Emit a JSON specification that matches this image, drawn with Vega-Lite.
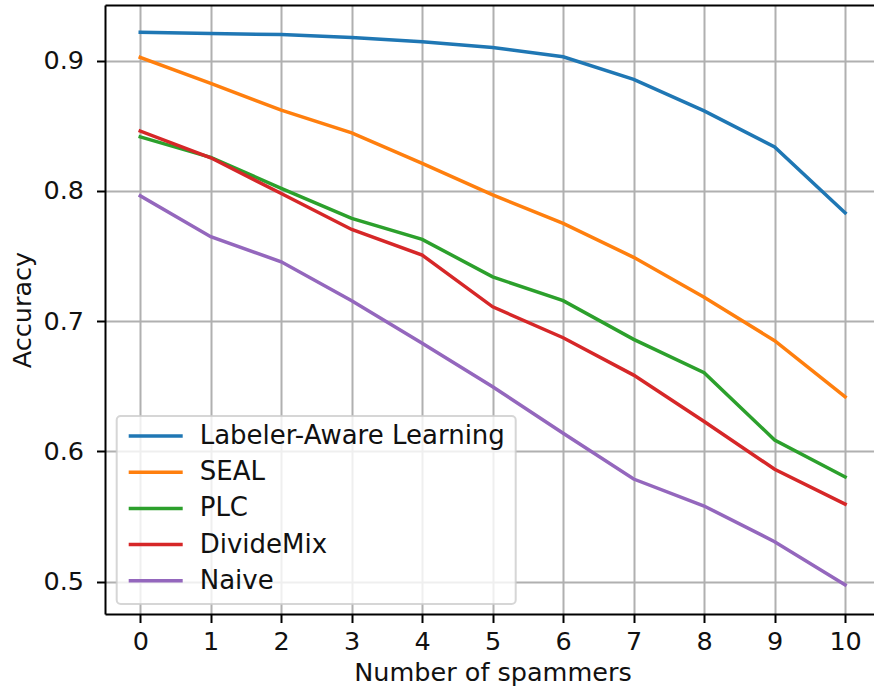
{
  "$schema": "https://vega.github.io/schema/vega-lite/v6.json",
  "width": 769,
  "height": 609,
  "autosize": {"type": "none"},
  "padding": {"left": 105, "top": 5, "right": 0, "bottom": 72},
  "background": "white",
  "config": {
    "view": {"stroke": null},
    "font": "DejaVu Sans",
    "axis": {
      "domainColor": "black",
      "domainWidth": 2,
      "tickColor": "black",
      "tickWidth": 2,
      "tickSize": 8.5,
      "gridColor": "#b0b0b0",
      "gridWidth": 2,
      "gridOpacity": 1,
      "labelFont": "DejaVu Sans",
      "labelFontSize": 25.5,
      "labelColor": "#111111",
      "titleFont": "DejaVu Sans",
      "titleFontSize": 25.5,
      "titleFontWeight": "normal",
      "titleColor": "#111111"
    }
  },
  "data": {
    "values": [
      {"spammers": 0, "method": "Labeler-Aware Learning", "accuracy": 0.9218},
      {"spammers": 1, "method": "Labeler-Aware Learning", "accuracy": 0.9208},
      {"spammers": 2, "method": "Labeler-Aware Learning", "accuracy": 0.9200},
      {"spammers": 3, "method": "Labeler-Aware Learning", "accuracy": 0.9177},
      {"spammers": 4, "method": "Labeler-Aware Learning", "accuracy": 0.9144},
      {"spammers": 5, "method": "Labeler-Aware Learning", "accuracy": 0.9100},
      {"spammers": 6, "method": "Labeler-Aware Learning", "accuracy": 0.9030},
      {"spammers": 7, "method": "Labeler-Aware Learning", "accuracy": 0.8856},
      {"spammers": 8, "method": "Labeler-Aware Learning", "accuracy": 0.8614},
      {"spammers": 9, "method": "Labeler-Aware Learning", "accuracy": 0.8338},
      {"spammers": 10, "method": "Labeler-Aware Learning", "accuracy": 0.7832},
      {"spammers": 0, "method": "SEAL", "accuracy": 0.9025},
      {"spammers": 1, "method": "SEAL", "accuracy": 0.8825},
      {"spammers": 2, "method": "SEAL", "accuracy": 0.8620},
      {"spammers": 3, "method": "SEAL", "accuracy": 0.8446},
      {"spammers": 4, "method": "SEAL", "accuracy": 0.8211},
      {"spammers": 5, "method": "SEAL", "accuracy": 0.7970},
      {"spammers": 6, "method": "SEAL", "accuracy": 0.7750},
      {"spammers": 7, "method": "SEAL", "accuracy": 0.7490},
      {"spammers": 8, "method": "SEAL", "accuracy": 0.7183},
      {"spammers": 9, "method": "SEAL", "accuracy": 0.6850},
      {"spammers": 10, "method": "SEAL", "accuracy": 0.6420},
      {"spammers": 0, "method": "PLC", "accuracy": 0.8415},
      {"spammers": 1, "method": "PLC", "accuracy": 0.8257},
      {"spammers": 2, "method": "PLC", "accuracy": 0.8020},
      {"spammers": 3, "method": "PLC", "accuracy": 0.7789},
      {"spammers": 4, "method": "PLC", "accuracy": 0.7628},
      {"spammers": 5, "method": "PLC", "accuracy": 0.7340},
      {"spammers": 6, "method": "PLC", "accuracy": 0.7157},
      {"spammers": 7, "method": "PLC", "accuracy": 0.6860},
      {"spammers": 8, "method": "PLC", "accuracy": 0.6604},
      {"spammers": 9, "method": "PLC", "accuracy": 0.6088},
      {"spammers": 10, "method": "PLC", "accuracy": 0.5804},
      {"spammers": 0, "method": "DivideMix", "accuracy": 0.8459},
      {"spammers": 1, "method": "DivideMix", "accuracy": 0.8254},
      {"spammers": 2, "method": "DivideMix", "accuracy": 0.7980},
      {"spammers": 3, "method": "DivideMix", "accuracy": 0.7704},
      {"spammers": 4, "method": "DivideMix", "accuracy": 0.7507},
      {"spammers": 5, "method": "DivideMix", "accuracy": 0.7110},
      {"spammers": 6, "method": "DivideMix", "accuracy": 0.6873},
      {"spammers": 7, "method": "DivideMix", "accuracy": 0.6586},
      {"spammers": 8, "method": "DivideMix", "accuracy": 0.6230},
      {"spammers": 9, "method": "DivideMix", "accuracy": 0.5863},
      {"spammers": 10, "method": "DivideMix", "accuracy": 0.5596},
      {"spammers": 0, "method": "Naive", "accuracy": 0.7962},
      {"spammers": 1, "method": "Naive", "accuracy": 0.7648},
      {"spammers": 2, "method": "Naive", "accuracy": 0.7456},
      {"spammers": 3, "method": "Naive", "accuracy": 0.7157},
      {"spammers": 4, "method": "Naive", "accuracy": 0.6830},
      {"spammers": 5, "method": "Naive", "accuracy": 0.6497},
      {"spammers": 6, "method": "Naive", "accuracy": 0.6139},
      {"spammers": 7, "method": "Naive", "accuracy": 0.5788},
      {"spammers": 8, "method": "Naive", "accuracy": 0.5581},
      {"spammers": 9, "method": "Naive", "accuracy": 0.5307},
      {"spammers": 10, "method": "Naive", "accuracy": 0.4975}
    ]
  },
  "layer": [
    {
      "mark": {"type": "line", "strokeWidth": 3.5, "strokeCap": "square", "clip": true},
      "encoding": {
        "x": {
          "field": "spammers",
          "type": "quantitative",
          "scale": {"domain": [-0.5, 10.41], "nice": false, "zero": false},
          "axis": {
            "orient": "bottom",
            "values": [0, 1, 2, 3, 4, 5, 6, 7, 8, 9, 10],
            "format": "d",
            "grid": true,
            "labelBaseline": "alphabetic",
            "labelPadding": 26.5,
            "labelFlush": false,
            "title": "Number of spammers",
            "titleX": 387.5,
            "titleY": 66,
            "titleBaseline": "alphabetic",
            "titleAlign": "center"
          }
        },
        "y": {
          "field": "accuracy",
          "type": "quantitative",
          "scale": {"domain": [0.4752, 0.9427], "nice": false, "zero": false},
          "axis": {
            "values": [0.5, 0.6, 0.7, 0.8, 0.9],
            "format": ".1f",
            "grid": true,
            "labelPadding": 13,
            "labelFlush": false,
            "labelBaseline": "middle",
            "title": "Accuracy",
            "titleAngle": -90,
            "titleX": -75,
            "titleY": 304.5,
            "titleAlign": "center",
            "titleBaseline": "alphabetic"
          }
        },
        "color": {
          "field": "method",
          "type": "nominal",
          "scale": {
            "domain": ["Labeler-Aware Learning", "SEAL", "PLC", "DivideMix", "Naive"],
            "range": ["#1f77b4", "#ff7f0e", "#2ca02c", "#d62728", "#9467bd"]
          },
          "legend": {
            "title": null,
            "orient": "none",
            "legendX": 11.7,
            "legendY": 411,
            "symbolType": "stroke",
            "symbolSize": 2916,
            "symbolStrokeWidth": 3.5,
            "clipHeight": 20,
            "rowPadding": 10.2,
            "padding": 10,
            "labelOffset": 15,
            "labelFont": "DejaVu Sans",
            "labelFontSize": 26,
            "labelColor": "#111111",
            "labelLimit": 500,
            "fillColor": "rgba(255,255,255,0.8)",
            "strokeColor": "rgba(204,204,204,0.8)",
            "cornerRadius": 4,
            "encode": {
              "legend": {"update": {"strokeWidth": {"value": 2}}}
            }
          }
        }
      }
    },
    {
      "mark": {"type": "line", "opacity": 0},
      "encoding": {
        "x": {
          "field": "spammers",
          "type": "quantitative",
          "axis": {
            "orient": "top",
            "labels": false,
            "ticks": false,
            "grid": false,
            "domain": true,
            "title": null
          }
        },
        "y": {"field": "accuracy", "type": "quantitative"},
        "detail": {"field": "method"}
      }
    }
  ],
  "resolve": {"axis": {"x": "independent"}}
}
